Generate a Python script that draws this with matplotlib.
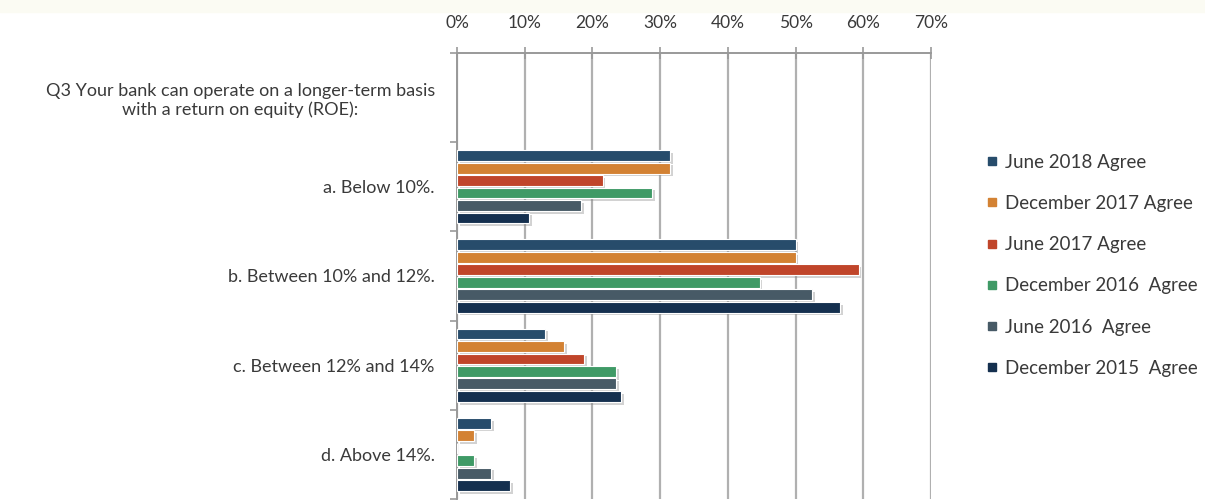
import matplotlib.pyplot as plt
import matplotlib.patheffects as pe
from matplotlib.lines import Line2D
from matplotlib.patches import Rectangle
import numpy as np

plt.rcParams['font.family'] = ['Lato', 'DejaVu Sans']

categories = ['Q3 Your bank can operate on a longer-term basis\nwith a return on equity (ROE):',
              'a. Below 10%.', 'b. Between 10% and 12%.',
              'c. Between 12% and 14%', 'd. Above 14%.']
series = ['June 2018 Agree', 'December 2017 Agree', 'June 2017 Agree',
          'December 2016  Agree', 'June 2016  Agree', 'December 2015  Agree']
colors = ['#274c6b', '#d38233', '#c0452a', '#3f9a66', '#475a66', '#15304f']
# values per series for categories a-d (the question row has no bars)
june_2018 = [31.5, 50.0, 13.0, 5.0]
dec_2017 = [31.5, 50.0, 15.8, 2.5]
june_2017 = [21.5, 59.3, 18.8, 0.0]
dec_2016 = [28.8, 44.7, 23.5, 2.5]
june_2016 = [18.3, 52.5, 23.5, 5.0]
dec_2015 = [10.7, 56.6, 24.2, 7.9]
values = [june_2018, dec_2017, june_2017, dec_2016, june_2016, dec_2015]
xticks = [0, 10, 20, 30, 40, 50, 60, 70]

fig = plt.figure(figsize=(12.05, 5.04), dpi=100)
fig.patches.append(Rectangle((0, 0.976), 1, 0.024, transform=fig.transFigure,
                             color='#fbfbf3', zorder=0))
ax = fig.add_axes([457/1205, 1-499/504, (931-457)/1205, (499-53)/504])

txt = '#3a3a3a'
slot = 0.14
h = 0.122
ypos = np.arange(1, len(categories))
for i, (name, vals, c) in enumerate(zip(series, values, colors)):
    ax.barh(ypos + (i - 2.5) * slot, vals, height=h, color=c,
            edgecolor='white', linewidth=0.8, zorder=3,
            path_effects=[pe.SimplePatchShadow(offset=(2, -2), shadow_rgbFace='#808080', alpha=0.35),
                          pe.Normal()])

ax.set_xlim(0, 70)
ax.set_ylim(len(categories) - 0.5, -0.5)
ax.xaxis.tick_top()
ax.set_xticks(xticks)
ax.set_xticklabels([f'{v}%' for v in xticks], fontsize=12.5, color=txt)
ax.tick_params(axis='x', length=8, direction='inout', color='#999999', width=1.2, pad=12)
ax.set_yticks(range(len(categories)))
ax.set_yticklabels(categories, fontsize=13, color=txt, multialignment='center')
ax.set_yticks(np.arange(-0.5, len(categories)), minor=True)
ax.tick_params(axis='y', which='major', length=0, pad=16)
ax.tick_params(axis='y', which='minor', length=5, color='#999999', width=1.2)
ax.grid(axis='x', color='#b0b0b0', linewidth=1.6, zorder=0)
for s in ['right', 'bottom']:
    ax.spines[s].set_visible(False)
for s in ['top', 'left']:
    ax.spines[s].set_color('#999999')
    ax.spines[s].set_linewidth(1.4)

handles = [Line2D([], [], marker='s', linestyle='', color=c, markersize=6) for c in colors]
fig.legend(handles, series, loc='upper left', bbox_to_anchor=(966/1205, 1-137/504),
           frameon=False, fontsize=13.5, labelspacing=1.29, handletextpad=0.2,
           handlelength=1.0, labelcolor=txt)

fig.savefig('out.png', dpi=100)
